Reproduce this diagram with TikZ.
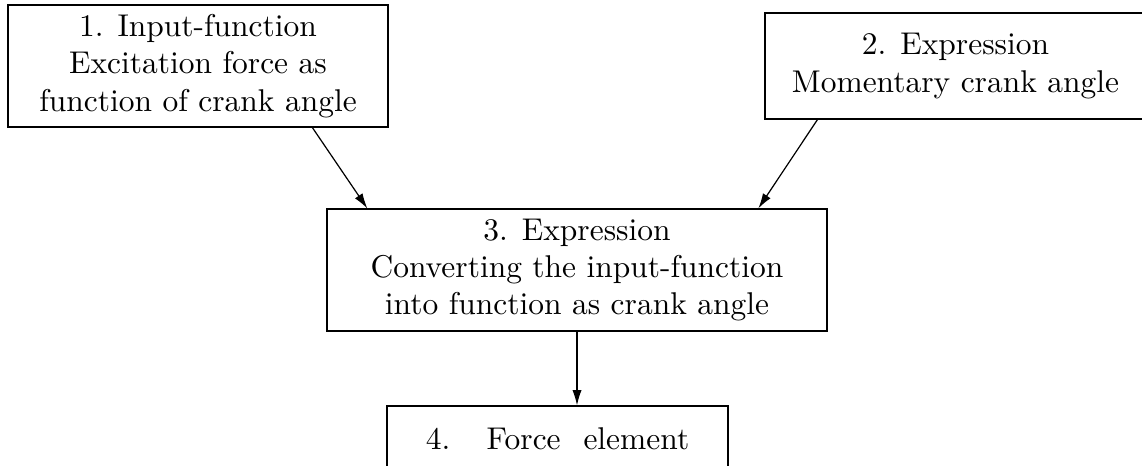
\documentclass[tikz,border=0pt]{standalone}
\usetikzlibrary{calc,arrows.meta}
\begin{document}
\begin{tikzpicture}[x=0.3289pt,y=-0.3289pt,
  blockbox/.style={draw, align=center, inner sep=0pt, line width=0.4pt,
    font=\fontsize{10.35}{12.3}\selectfont},
  flowarrow/.style={-{Latex[length=5pt,width=3pt]}, line width=0.4pt}]
\clip (0,0) rectangle (1142,465);
\node[blockbox, minimum width=125.0pt, minimum height=40.1pt] (b1) at (198,66)
  {1. Input-function\\Excitation force as\\function of crank angle};
\node[blockbox, minimum width=125.3pt, minimum height=34.9pt] (b2) at (955.5,66)
  {2. Expression\\Momentary crank angle};
\node[blockbox, minimum width=164.5pt, minimum height=40.1pt] (b3) at (577,270)
  {3. Expression\\Converting the input-function\\into function as crank angle};
\node[blockbox, minimum width=112.2pt, minimum height=21.7pt] (b4) at (557.5,439)
  {4.\hspace{12pt}Force\hspace{7.5pt}element};
\draw[flowarrow] ($(b1.south west)+(305,0)$) -- ($(b3.north west)+(41,0)$);
\draw[flowarrow] ($(b2.south west)+(53,0)$) -- ($(b3.north west)+(432,0)$);
\draw[flowarrow] (b3.south) -- (b3.south |- b4.north);
\end{tikzpicture}
\end{document}
